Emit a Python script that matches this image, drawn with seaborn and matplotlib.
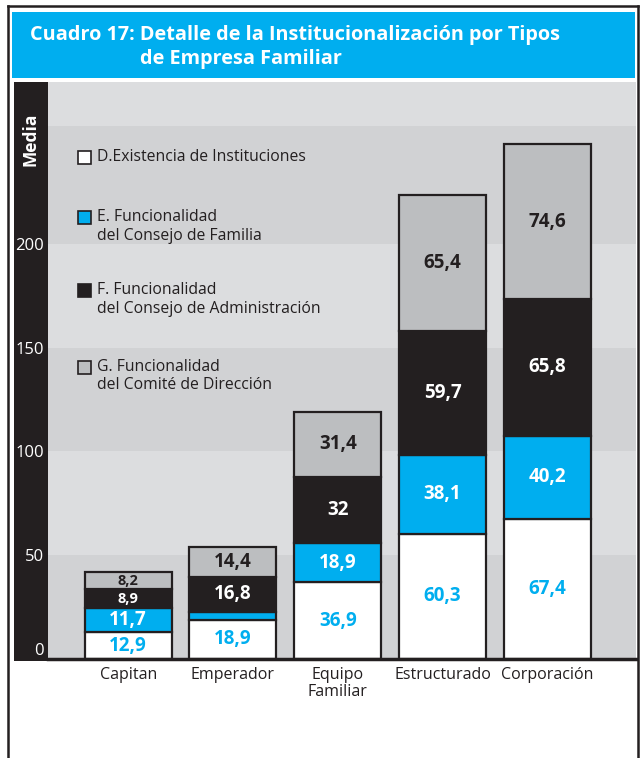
import seaborn as sns
import matplotlib.pyplot as plt
from matplotlib.patches import Rectangle
from matplotlib.lines import Line2D
import numpy as np
import pandas as pd

# datos del cuadro
categorias = ['Capitan', 'Emperador', 'Equipo\nFamiliar', 'Estructurado', 'Corporación']
d_existencia = [12.9, 18.9, 36.9, 60.3, 67.4]
e_consejo_familia = [11.7, 3.9, 18.9, 38.1, 40.2]
f_consejo_admin = [8.9, 16.8, 32.0, 59.7, 65.8]
g_comite_direccion = [8.2, 14.4, 31.4, 65.4, 74.6]
series = ['D.Existencia de Instituciones',
          'E. Funcionalidad\ndel Consejo de Familia',
          'F. Funcionalidad\ndel Consejo de Administración',
          'G. Funcionalidad\ndel Comité de Dirección']
y_ticks = [0, 50, 100, 150, 200]

AZUL = '#00aeef'
NEGRO = '#231f20'
GRIS = '#bcbec0'
colores = ['#ffffff', AZUL, NEGRO, GRIS]
color_texto = [AZUL, 'white', 'white', NEGRO]

W, H = 643, 758
def fx(px):
    return px / W
def fy(py):
    return 1 - py / H

FUENTE = ['Open Sans', 'DejaVu Sans']

df = pd.DataFrame({'Tipo': categorias, 'D': d_existencia, 'E': e_consejo_familia,
                   'F': f_consejo_admin, 'G': g_comite_direccion})

fig = plt.figure(figsize=(W / 100, H / 100), dpi=100)
ax = fig.add_axes([fx(48), fy(659), (636 - 48) / W, (659 - 82) / H])

# bandas grises de fondo
limites = [0, 50, 100, 150, 200, 257, 278]
for i in range(len(limites) - 1):
    ax.axhspan(limites[i], limites[i + 1], color='#d1d2d4' if i % 2 == 0 else '#dcdddf',
               lw=0, zorder=0)

# barras apiladas
base = np.zeros(len(categorias))
for col, c, tc in zip(['D', 'E', 'F', 'G'], colores, color_texto):
    sns.barplot(data=df, x='Tipo', y=col, color=c, saturation=1, width=0.83,
                bottom=base.copy(), edgecolor=NEGRO, linewidth=1.6, errorbar=None,
                ax=ax, zorder=2)
    for i, v in enumerate(df[col]):
        if v >= 5:
            txt = f'{v:.1f}'.replace('.', ',')
            if txt.endswith(',0'):
                txt = txt[:-2]
            # segmentos finos: letra algo menor para que no se monten
            ax.text(i, base[i] + v / 2, txt, ha='center', va='center', color=tc,
                    fontsize=13.5 if v >= 10 else 10.5, fontweight='bold',
                    family=FUENTE, zorder=3)
    base += df[col].values

ax.set_xlim(-0.765, 4.845)
ax.set_ylim(0, 278)
ax.set_xlabel('')
ax.set_ylabel('')
for s in ['top', 'left', 'right']:
    ax.spines[s].set_visible(False)
ax.spines['bottom'].set_linewidth(2.5)
ax.spines['bottom'].set_color(NEGRO)
ax.spines['bottom'].set_zorder(4)

ax.set_yticks(y_ticks)
ax.set_yticklabels([str(t) for t in y_ticks], color='white', fontsize=12, family=FUENTE)
ax.get_yticklabels()[0].set_va('bottom')
ax.tick_params(axis='y', length=0, pad=3)
ax.tick_params(axis='x', length=0, pad=6)
for lab in ax.get_xticklabels():
    lab.set_fontsize(11.5)
    lab.set_family(FUENTE)
    lab.set_color(NEGRO)
    lab.set_linespacing(1.05)
    lab.set_va('top')

# marco, caja del titulo y franja negra
fig.add_artist(Line2D([fx(8), fx(8)], [fy(6), 0], color=NEGRO, lw=1.8))
fig.add_artist(Line2D([fx(8), fx(638)], [fy(6), fy(6)], color=NEGRO, lw=1.8))
fig.add_artist(Line2D([fx(638), fx(638)], [fy(6), 0], color=NEGRO, lw=1.8))
fig.add_artist(Rectangle((fx(12), fy(78)), (635 - 12) / W, (78 - 12) / H,
                         color=AZUL, lw=0, zorder=0.5))
fig.add_artist(Rectangle((fx(14), fy(661)), (48 - 14) / W, (661 - 82) / H,
                         color=NEGRO, lw=0, zorder=-1))

fig.text(fx(30), fy(35), 'Cuadro 17: Detalle de la Institucionalización por Tipos',
         color='white', fontsize=14.3, fontweight='bold', family=FUENTE,
         ha='left', va='center')
fig.text(fx(140), fy(59), 'de Empresa Familiar', color='white', fontsize=14.3,
         fontweight='bold', family=FUENTE, ha='left', va='center')
fig.text(fx(31), fy(139), 'Media', color='white', fontsize=12.5, fontweight='bold',
         family=FUENTE, rotation=90, ha='center', va='center')

# leyenda
cuadros_y = [157, 217, 290, 367]
textos_y = [157, 226.5, 299.5, 376]
for lab, c, cy, ty in zip(series, colores, cuadros_y, textos_y):
    fig.add_artist(Rectangle((fx(78), fy(cy + 6.5)), 13 / W, 13 / H, facecolor=c,
                             edgecolor=NEGRO, lw=1.2, zorder=5))
    fig.text(fx(97), fy(ty), lab, color=NEGRO, fontsize=11.3, family=FUENTE,
             ha='left', va='center', linespacing=1.2, zorder=5)

fig.savefig('out.png', dpi=100)
